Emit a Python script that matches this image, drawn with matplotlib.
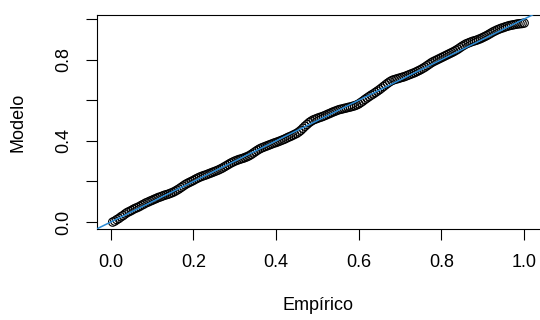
import matplotlib
matplotlib.use("Agg")
import matplotlib.pyplot as plt

empirico = [0.005, 0.010, 0.015, 0.020, 0.025, 0.030, 0.035, 0.040, 0.045, 0.050,
            0.055, 0.060, 0.065, 0.070, 0.075, 0.080, 0.085, 0.090, 0.095, 0.100,
            0.105, 0.110, 0.115, 0.120, 0.125, 0.130, 0.135, 0.140, 0.145, 0.150,
            0.155, 0.160, 0.165, 0.170, 0.175, 0.180, 0.185, 0.190, 0.195, 0.200,
            0.205, 0.210, 0.215, 0.220, 0.225, 0.230, 0.235, 0.240, 0.245, 0.250,
            0.255, 0.260, 0.265, 0.270, 0.275, 0.280, 0.285, 0.290, 0.295, 0.300,
            0.305, 0.310, 0.315, 0.320, 0.325, 0.330, 0.335, 0.340, 0.345, 0.350,
            0.355, 0.360, 0.365, 0.370, 0.375, 0.380, 0.385, 0.390, 0.395, 0.400,
            0.405, 0.410, 0.415, 0.420, 0.425, 0.430, 0.435, 0.440, 0.445, 0.450,
            0.455, 0.460, 0.465, 0.470, 0.475, 0.480, 0.485, 0.490, 0.495, 0.500,
            0.505, 0.510, 0.515, 0.520, 0.525, 0.530, 0.535, 0.540, 0.545, 0.550,
            0.555, 0.560, 0.565, 0.570, 0.575, 0.580, 0.585, 0.590, 0.595, 0.600,
            0.605, 0.610, 0.615, 0.620, 0.625, 0.630, 0.635, 0.640, 0.645, 0.650,
            0.655, 0.660, 0.665, 0.670, 0.675, 0.680, 0.685, 0.690, 0.695, 0.700,
            0.705, 0.710, 0.715, 0.720, 0.725, 0.730, 0.735, 0.740, 0.745, 0.750,
            0.755, 0.760, 0.765, 0.770, 0.775, 0.780, 0.785, 0.790, 0.795, 0.800,
            0.805, 0.810, 0.815, 0.820, 0.825, 0.830, 0.835, 0.840, 0.845, 0.850,
            0.855, 0.860, 0.865, 0.870, 0.875, 0.880, 0.885, 0.890, 0.895, 0.900,
            0.905, 0.910, 0.915, 0.920, 0.925, 0.930, 0.935, 0.940, 0.945, 0.950,
            0.955, 0.960, 0.965, 0.970, 0.975, 0.980, 0.985, 0.990, 0.995, 1.000]
modelo = [0.000, 0.005, 0.012, 0.018, 0.026, 0.032, 0.040, 0.047, 0.052, 0.057,
          0.063, 0.068, 0.072, 0.077, 0.083, 0.088, 0.094, 0.098, 0.103, 0.107,
          0.112, 0.116, 0.121, 0.124, 0.128, 0.132, 0.135, 0.138, 0.142, 0.146,
          0.151, 0.157, 0.163, 0.170, 0.177, 0.184, 0.190, 0.195, 0.200, 0.205,
          0.211, 0.216, 0.221, 0.225, 0.229, 0.232, 0.236, 0.240, 0.244, 0.248,
          0.252, 0.256, 0.261, 0.266, 0.272, 0.278, 0.284, 0.290, 0.295, 0.300,
          0.304, 0.308, 0.311, 0.314, 0.318, 0.322, 0.327, 0.333, 0.340, 0.347,
          0.354, 0.360, 0.365, 0.369, 0.373, 0.377, 0.381, 0.385, 0.389, 0.392,
          0.396, 0.400, 0.404, 0.408, 0.413, 0.418, 0.422, 0.427, 0.432, 0.437,
          0.444, 0.452, 0.462, 0.472, 0.481, 0.490, 0.497, 0.503, 0.507, 0.511,
          0.515, 0.518, 0.522, 0.526, 0.531, 0.535, 0.540, 0.544, 0.548, 0.552,
          0.555, 0.557, 0.560, 0.562, 0.565, 0.567, 0.570, 0.573, 0.577, 0.582,
          0.589, 0.596, 0.604, 0.611, 0.618, 0.625, 0.631, 0.638, 0.645, 0.652,
          0.660, 0.668, 0.676, 0.684, 0.691, 0.697, 0.701, 0.704, 0.707, 0.710,
          0.713, 0.716, 0.720, 0.724, 0.728, 0.732, 0.736, 0.741, 0.746, 0.751,
          0.757, 0.763, 0.770, 0.777, 0.784, 0.790, 0.795, 0.800, 0.805, 0.810,
          0.815, 0.820, 0.825, 0.830, 0.835, 0.840, 0.846, 0.852, 0.859, 0.866,
          0.872, 0.878, 0.882, 0.886, 0.890, 0.893, 0.896, 0.900, 0.904, 0.909,
          0.914, 0.919, 0.925, 0.931, 0.937, 0.942, 0.947, 0.951, 0.955, 0.958,
          0.962, 0.965, 0.968, 0.970, 0.972, 0.974, 0.976, 0.977, 0.978, 0.980]

x_ticks = [0.0, 0.2, 0.4, 0.6, 0.8, 1.0]
y_ticks = [0.0, 0.2, 0.4, 0.6, 0.8, 1.0]
y_labels = ["0.0", "", "0.4", "", "0.8", ""]

plt.rcParams["font.family"] = "Liberation Sans"

fig = plt.figure(figsize=(5.4, 3.2), dpi=100)
ax = fig.add_axes([0.1796, 0.2844, 0.8217, 0.6688])

ax.scatter(empirico, modelo, s=36, facecolors="none", edgecolors="black",
           linewidths=0.8, zorder=2)
ax.axline((0, 0), (1, 1), color="#2a8ad4", lw=1.1, zorder=3)

ax.set_xlim(-0.033, 1.040)
ax.set_ylim(-0.034, 1.020)

ax.set_xticks(x_ticks)
ax.set_xticklabels(["%.1f" % t for t in x_ticks])
ax.set_yticks(y_ticks)
ax.set_yticklabels(y_labels, rotation=90, va="center")
ax.tick_params(direction="out", length=7.7, width=0.8, labelsize=13, pad=10)
ax.spines["right"].set_visible(False)
for s in ["left", "bottom", "top"]:
    ax.spines[s].set_linewidth(0.8)

fig.text(0.589, 1 - 305 / 320, "Empírico", ha="center", va="center", fontsize=13)
fig.text(18 / 540, 1 - 122 / 320, "Modelo", ha="center", va="center",
         rotation=90, fontsize=13)

fig.savefig("out.png", dpi=100)
